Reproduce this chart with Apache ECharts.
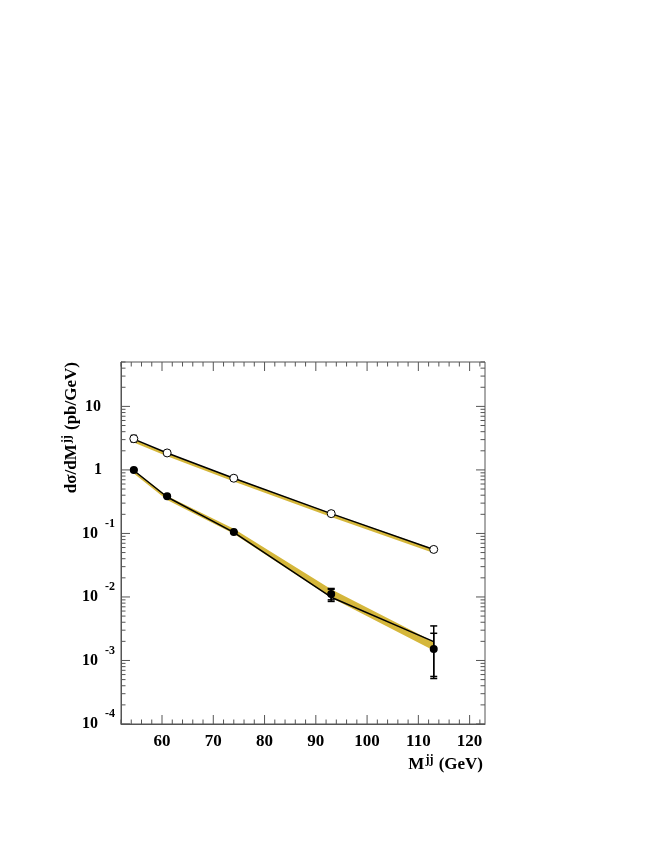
<!DOCTYPE html>
<html>
<head>
<meta charset="utf-8">
<script src="https://cdn.jsdelivr.net/npm/echarts@6/dist/echarts.min.js"></script>
<style>
html, body { margin: 0; padding: 0; background: #fff; }
#chart { width: 654px; height: 846px; }
</style>
</head>
<body>
<div id="chart"></div>
<script>
// mass bins (GeV)
var massBins = [54.5, 61, 74, 93, 113];

// open circles
var openPoints = [3.1, 1.85, 0.74, 0.205, 0.056];
var openErrLow = [2.75, 1.79, 0.715, 0.198, 0.052];
var openErrHigh = [3.5, 1.91, 0.765, 0.212, 0.060];
var openLine = [3.05, 1.85, 0.74, 0.205, 0.056];
var openBandLow = [2.7, 1.64, 0.66, 0.182, 0.049];
var openBandHigh = [3.05, 1.86, 0.745, 0.207, 0.057];

// filled circles
var fullPoints = [1.0, 0.385, 0.105, 0.0111, 0.00152];
var fullStatLow = [0.98, 0.375, 0.103, 0.0090, 0.00056];
var fullStatHigh = [1.02, 0.395, 0.107, 0.0132, 0.00268];
var fullTotLow = [0.98, 0.375, 0.103, 0.0085, 0.00052];
var fullTotHigh = [1.02, 0.395, 0.107, 0.0136, 0.0035];
var fullLine = [0.98, 0.375, 0.104, 0.0099, 0.00198];
var fullBandLow = [0.88, 0.335, 0.099, 0.0097, 0.00143];
var fullBandHigh = [1.0, 0.39, 0.118, 0.0132, 0.00198];

// axes
var xMin = 52, xMax = 123;
var yMin = 1e-4, yMax = 50;
var xMajor = [60, 70, 80, 90, 100, 110, 120];
var yDecades = [1e-4, 1e-3, 1e-2, 1e-1, 1, 10];

var yellow = '#d5b73b';
var frame = '#555';
var serif = 'Liberation Serif';

function bandItem(low, high) {
  return function (params, api) {
    if (params.dataIndex !== 0) return;
    var pts = [];
    for (var i = 0; i < massBins.length; i++) pts.push(api.coord([massBins[i], low[i]]));
    for (var j = massBins.length - 1; j >= 0; j--) pts.push(api.coord([massBins[j], high[j]]));
    return { type: 'polygon', shape: { points: pts }, style: { fill: yellow } };
  };
}

function errItem(cap) {
  return function (params, api) {
    var x = api.value(0);
    var p1 = api.coord([x, api.value(1)]);
    var p2 = api.coord([x, api.value(2)]);
    var st = { stroke: '#000', lineWidth: 1.5 };
    return {
      type: 'group',
      children: [
        { type: 'line', shape: { x1: p1[0], y1: p1[1], x2: p2[0], y2: p2[1] }, style: st },
        { type: 'line', shape: { x1: p1[0] - cap, y1: p1[1], x2: p1[0] + cap, y2: p1[1] }, style: st },
        { type: 'line', shape: { x1: p2[0] - cap, y1: p2[1], x2: p2[0] + cap, y2: p2[1] }, style: st }
      ]
    };
  };
}

function tickItem(params, api) {
  if (params.dataIndex !== 0) return;
  var lb = api.coord([xMin, yMin]);
  var rt = api.coord([xMax, yMax]);
  var left = lb[0], bottom = lb[1], right = rt[0], top = rt[1];
  var kids = [];
  var st = { stroke: frame, lineWidth: 1 };
  function add(x1, y1, x2, y2) {
    kids.push({ type: 'line', shape: { x1: x1, y1: y1, x2: x2, y2: y2 }, style: st });
  }
  // x ticks bottom & top
  for (var v = xMin; v <= xMax; v += 2) {
    var len = xMajor.indexOf(v) >= 0 ? 9 : 4.5;
    var px = api.coord([v, 1])[0];
    add(px, bottom, px, bottom - len);
    add(px, top, px, top + len);
  }
  // y ticks left & right (log)
  for (var d = 0; d < yDecades.length; d++) {
    for (var m = 1; m <= 9; m++) {
      var val = yDecades[d] * m;
      if (val > yMax) break;
      var py = api.coord([60, val])[1];
      var l = m === 1 ? 9 : 4.5;
      add(left, py, left + l, py);
      add(right, py, right - l, py);
    }
  }
  return { type: 'group', children: kids };
}

function yLabel(v) {
  var e = Math.round(Math.log10(v));
  if (Math.abs(Math.log10(v) - e) > 1e-6) return '';
  if (e === 1) return '{p10|10}';
  if (e === 0) return '{p1|1}';
  return '{b|10}{s|' + e + '}';
}

var chart = echarts.init(document.getElementById('chart'));
chart.setOption({
  backgroundColor: '#fff',
  animation: false,
  grid: {
    left: 121, right: 169, top: 362, bottom: 122,
    show: true, borderColor: frame, borderWidth: 1, backgroundColor: 'transparent'
  },
  xAxis: {
    type: 'value',
    min: xMin, max: xMax, interval: 2,
    axisLine: { show: true, lineStyle: { color: frame } },
    axisTick: { show: false },
    splitLine: { show: false },
    axisLabel: {
      margin: 9,
      fontFamily: serif, fontWeight: 'bold', fontSize: 17, color: '#000',
      formatter: function (v) { return v % 10 === 0 ? String(v) : ''; }
    },
    name: '{n|M}{s|jj}{n| (GeV)}',
    nameLocation: 'end',
    nameGap: -2,
    nameTextStyle: {
      align: 'right', verticalAlign: 'top', padding: [30, 0, 0, 0],
      rich: {
        n: { fontFamily: serif, fontWeight: 'bold', fontSize: 17, color: '#000' },
        s: { fontFamily: serif, fontWeight: 'bold', fontSize: 12, color: '#000', padding: [0, 1, 9, 1] }
      }
    }
  },
  yAxis: {
    type: 'log',
    logBase: 10,
    min: yMin, max: yMax,
    axisLine: { show: true, lineStyle: { color: frame } },
    axisTick: { show: false },
    splitLine: { show: false },
    minorTick: { show: false },
    axisLabel: {
      margin: 6,
      showMaxLabel: false,
      formatter: yLabel,
      rich: {
        b: { fontFamily: serif, fontWeight: 'bold', fontSize: 16, color: '#000' },
        s: { fontFamily: serif, fontWeight: 'bold', fontSize: 12, color: '#000', padding: [0, 0, 20, 7] },
        p10: { fontFamily: serif, fontWeight: 'bold', fontSize: 16, color: '#000', padding: [0, 14, 0, 0] },
        p1: { fontFamily: serif, fontWeight: 'bold', fontSize: 16, color: '#000', padding: [0, 13, 0, 0] }
      }
    },
    name: '{n|d\u03c3/dM}{s|jj}{n| (pb/GeV)}',
    nameLocation: 'end',
    nameRotate: 90,
    nameGap: 0,
    nameTextStyle: {
      align: 'right', verticalAlign: 'bottom', padding: [0, 0, 39, 0],
      rich: {
        n: { fontFamily: serif, fontWeight: 'bold', fontSize: 17, color: '#000' },
        s: { fontFamily: serif, fontWeight: 'bold', fontSize: 12, color: '#000', padding: [0, 1, 9, 1] }
      }
    }
  },
  series: [
    {
      type: 'custom', name: 'ticks', z: 1, silent: true,
      renderItem: tickItem,
      data: [[xMin, 1]]
    },
    {
      type: 'custom', name: 'open band', z: 2, silent: true,
      renderItem: bandItem(openBandLow, openBandHigh),
      data: massBins.map(function (m, i) { return [m, openBandLow[i], openBandHigh[i]]; })
    },
    {
      type: 'custom', name: 'full band', z: 2, silent: true,
      renderItem: bandItem(fullBandLow, fullBandHigh),
      data: massBins.map(function (m, i) { return [m, fullBandLow[i], fullBandHigh[i]]; })
    },
    {
      type: 'line', name: 'open line', z: 3, symbol: 'none',
      lineStyle: { color: '#000', width: 1.5 },
      data: massBins.map(function (m, i) { return [m, openLine[i]]; })
    },
    {
      type: 'line', name: 'full line', z: 3, symbol: 'none',
      lineStyle: { color: '#000', width: 1.5 },
      data: massBins.map(function (m, i) { return [m, fullLine[i]]; })
    },
    {
      type: 'custom', name: 'open err', z: 4,
      renderItem: errItem(3),
      data: massBins.map(function (m, i) { return [m, openErrLow[i], openErrHigh[i]]; })
    },
    {
      type: 'custom', name: 'full tot err', z: 4,
      renderItem: errItem(3.5),
      data: massBins.map(function (m, i) { return [m, fullTotLow[i], fullTotHigh[i]]; })
    },
    {
      type: 'custom', name: 'full stat err', z: 4,
      renderItem: errItem(3.5),
      data: massBins.map(function (m, i) { return [m, fullStatLow[i], fullStatHigh[i]]; })
    },
    {
      type: 'scatter', name: 'open', z: 5, symbol: 'circle', symbolSize: 8,
      itemStyle: { color: '#fff', borderColor: '#000', borderWidth: 1, opacity: 1 },
      data: massBins.map(function (m, i) { return [m, openPoints[i]]; })
    },
    {
      type: 'scatter', name: 'full', z: 5, symbol: 'circle', symbolSize: 8,
      itemStyle: { color: '#000', opacity: 1 },
      data: massBins.map(function (m, i) { return [m, fullPoints[i]]; })
    }
  ]
});
</script>
</body>
</html>
